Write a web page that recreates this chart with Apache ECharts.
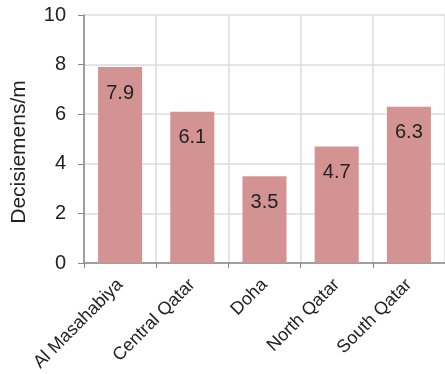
<!DOCTYPE html>
<html>
<head>
<meta charset="utf-8">
<script src="https://cdn.jsdelivr.net/npm/echarts@6/dist/echarts.min.js"></script>
<style>
html,body{margin:0;padding:0;background:#fff;}
#chart{width:445px;height:374px;}
</style>
</head>
<body>
<div id="chart"></div>
<script>
// Salinity (electrical conductivity) by region
const regions = ['Al Masahabiya', 'Central Qatar', 'Doha', 'North Qatar', 'South Qatar'];
const conductivity = [7.9, 6.1, 3.5, 4.7, 6.3];
const yTicks = [0, 2, 4, 6, 8, 10];

const FONT = 'Liberation Sans, Arial, sans-serif';
const chart = echarts.init(document.getElementById('chart'));
chart.setOption({
  animation: false,
  grid: { left: 84, top: 15, width: 367.5, height: 248, containLabel: false },
  xAxis: {
    type: 'category',
    data: regions,
    axisLine: { lineStyle: { color: '#888', width: 1.5 } },
    axisTick: { show: true, alignWithLabel: false, length: 5, lineStyle: { color: '#888' } },
    splitLine: { show: true, interval: 0, lineStyle: { color: '#ddd', width: 1.5 } },
    axisLabel: {
      interval: 0, rotate: 45, margin: 19,
      fontFamily: FONT, fontSize: 18, color: '#222'
    }
  },
  yAxis: {
    type: 'value',
    min: yTicks[0], max: yTicks[yTicks.length - 1], interval: 2,
    name: 'Decisiemens/m',
    nameLocation: 'middle', nameGap: 54,
    nameTextStyle: { fontFamily: FONT, fontSize: 21, color: '#222', padding: [0, 26, 0, 0] },
    axisLine: { show: true, lineStyle: { color: '#888', width: 1.5 } },
    axisTick: { show: true, length: 6, lineStyle: { color: '#888' } },
    splitLine: { show: true, lineStyle: { color: '#ddd', width: 1.5 } },
    axisLabel: { margin: 18, fontFamily: FONT, fontSize: 20, color: '#222' }
  },
  series: [{
    type: 'bar',
    data: conductivity,
    barWidth: '61%',
    itemStyle: { color: '#d49393' },
    label: {
      show: true, position: 'insideTop', distance: 16,
      fontFamily: FONT, fontSize: 20, color: '#222'
    }
  }]
});
</script>
</body>
</html>
